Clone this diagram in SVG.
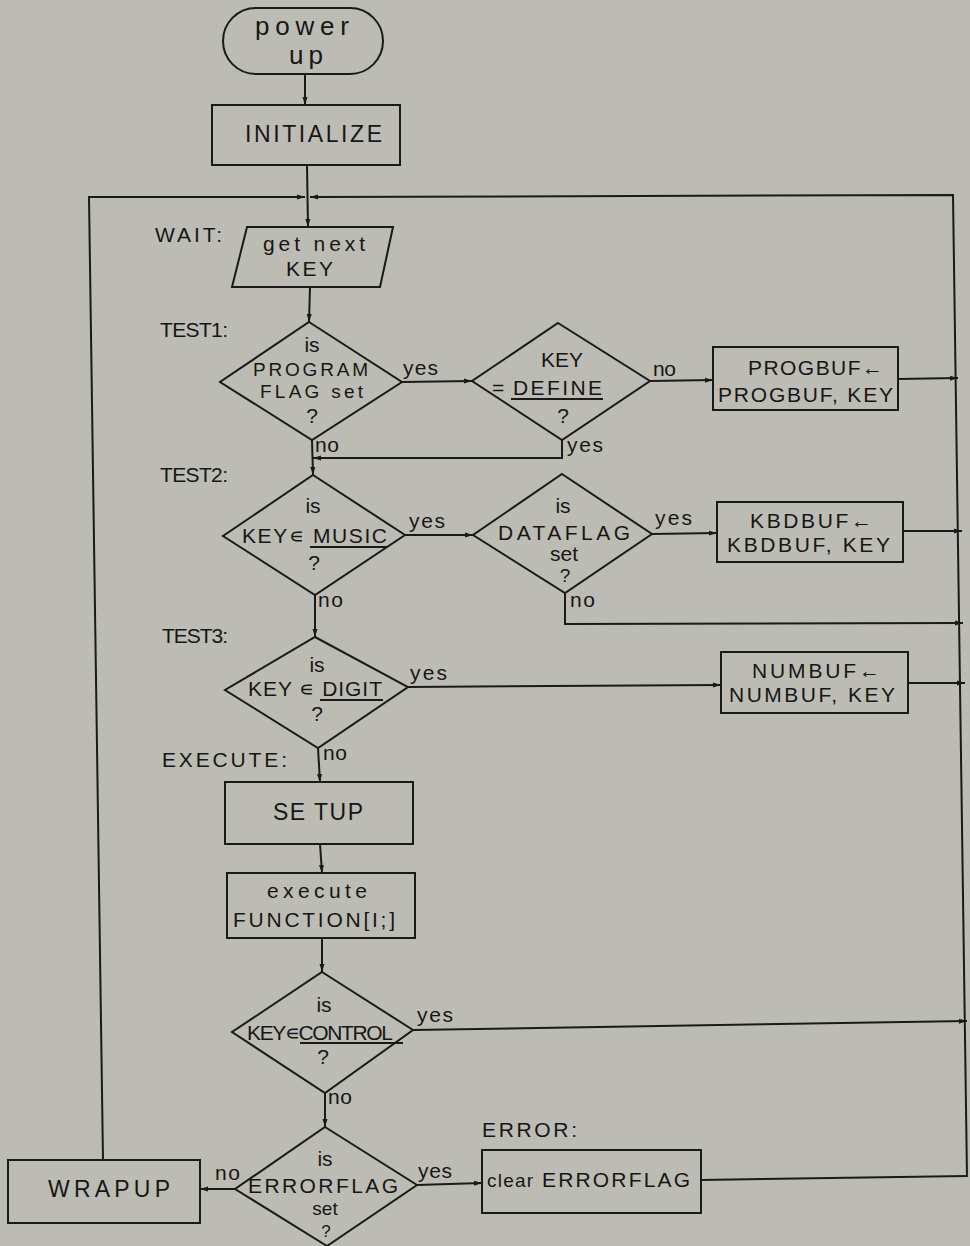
<svg xmlns="http://www.w3.org/2000/svg" width="970" height="1246" viewBox="0 0 970 1246">
<style>
.bg{fill:#bdbcb4}
.s{fill:none;stroke:#1a1a1a;stroke-width:2;stroke-linejoin:miter}
.ln{fill:none;stroke:#1a1a1a;stroke-width:2}
.t{font-family:"Liberation Sans",Arial,sans-serif;fill:#161616;font-size:21px}
.m{text-anchor:middle}
.big{font-size:23px}
.sm{font-size:19px}
</style>
<defs>
<marker id="ah" markerUnits="userSpaceOnUse" markerWidth="9" markerHeight="6" refX="8" refY="3" orient="auto">
<path d="M0,0.5 L8,3 L0,5.5 z" fill="#1a1a1a"/>
</marker>
</defs>
<rect class="bg" x="0" y="0" width="970" height="1246"/>

<g id="connectors">
<path class="ln" d="M305,74 L305,105" marker-end="url(#ah)"/>
<path class="ln" d="M307,165 L308,227" marker-end="url(#ah)"/>
<path class="ln" d="M103,1160 L89,197 L305,197" marker-end="url(#ah)"/>
<path class="ln" d="M967,1177 L953,195 L310,197" marker-end="url(#ah)"/>
<path class="ln" d="M310,287 L309,322" marker-end="url(#ah)"/>
<path class="ln" d="M402,382 L472,381" marker-end="url(#ah)"/>
<path class="ln" d="M650,381 L713,380" marker-end="url(#ah)"/>
<path class="ln" d="M898,379 L958,378" marker-end="url(#ah)"/>
<path class="ln" d="M562,440 L562,458 L313,458" marker-end="url(#ah)"/>
<path class="ln" d="M312,440 L313,475" marker-end="url(#ah)"/>
<path class="ln" d="M405,535 L473,535" marker-end="url(#ah)"/>
<path class="ln" d="M652,534 L717,533" marker-end="url(#ah)"/>
<path class="ln" d="M903,531 L962,531" marker-end="url(#ah)"/>
<path class="ln" d="M565,593 L565,624 L963,623" marker-end="url(#ah)"/>
<path class="ln" d="M315,595 L315,637" marker-end="url(#ah)"/>
<path class="ln" d="M408,687 L721,685" marker-end="url(#ah)"/>
<path class="ln" d="M908,683 L965,683" marker-end="url(#ah)"/>
<path class="ln" d="M318,748 L320,782" marker-end="url(#ah)"/>
<path class="ln" d="M320,844 L322,873" marker-end="url(#ah)"/>
<path class="ln" d="M322,938 L322,972" marker-end="url(#ah)"/>
<path class="ln" d="M413,1030 L967,1021" marker-end="url(#ah)"/>
<path class="ln" d="M325,1093 L325,1127" marker-end="url(#ah)"/>
<path class="ln" d="M235,1189 L200,1189" marker-end="url(#ah)"/>
<path class="ln" d="M417,1185 L482,1183" marker-end="url(#ah)"/>
<path class="ln" d="M701,1180 L967,1176"/>
</g>

<g id="labels">
<text class="t" x="155" y="242" textLength="67" lengthAdjust="spacing">WAIT:</text>
<text class="t" x="160" y="337" textLength="68" lengthAdjust="spacing">TEST1:</text>
<text class="t" x="160" y="482" textLength="68" lengthAdjust="spacing">TEST2:</text>
<text class="t" x="162" y="643" textLength="66" lengthAdjust="spacing">TEST3:</text>
<text class="t" x="162" y="767" textLength="125" lengthAdjust="spacing">EXECUTE:</text>
<text class="t" x="482" y="1137" textLength="95" lengthAdjust="spacing">ERROR:</text>
<text class="t" x="403" y="375" textLength="35" lengthAdjust="spacing">yes</text>
<text class="t" x="315" y="452" textLength="24" lengthAdjust="spacing">no</text>
<text class="t" x="567" y="452" textLength="36" lengthAdjust="spacing">yes</text>
<text class="t" x="653" y="376" textLength="23" lengthAdjust="spacing">no</text>
<text class="t" x="409" y="528" textLength="36" lengthAdjust="spacing">yes</text>
<text class="t" x="655" y="525" textLength="37" lengthAdjust="spacing">yes</text>
<text class="t" x="318" y="607" textLength="25" lengthAdjust="spacing">no</text>
<text class="t" x="570" y="607" textLength="25" lengthAdjust="spacing">no</text>
<text class="t" x="410" y="680" textLength="37" lengthAdjust="spacing">yes</text>
<text class="t" x="323" y="760" textLength="24" lengthAdjust="spacing">no</text>
<text class="t" x="417" y="1022" textLength="36" lengthAdjust="spacing">yes</text>
<text class="t" x="328" y="1104" textLength="24" lengthAdjust="spacing">no</text>
<text class="t" x="215" y="1180" textLength="25" lengthAdjust="spacing">no</text>
<text class="t" x="418" y="1178" textLength="34" lengthAdjust="spacing">yes</text>
</g>

<g id="powerup">
<rect class="s" x="223" y="8" width="160" height="66" rx="33"/>
<text class="t m" x="302" y="35" style="font-size:26px" textLength="94" lengthAdjust="spacing">power</text>
<text class="t m" x="306" y="64" style="font-size:26px" textLength="34" lengthAdjust="spacing">up</text>
</g>

<g id="initialize">
<rect class="s" x="212" y="105" width="188" height="60"/>
<text class="t big" x="245" y="142" textLength="137" lengthAdjust="spacing">INITIALIZE</text>
</g>

<g id="getkey">
<polygon class="s" points="247,227 393,227 380,287 232,287"/>
<text class="t" x="263" y="251" textLength="102" lengthAdjust="spacing">get next</text>
<text class="t" x="286" y="276" textLength="47" lengthAdjust="spacing">KEY</text>
</g>

<g id="test1">
<polygon class="s" points="309,322 402,382 312,440 220,382"/>
<text class="t m" x="312" y="352">is</text>
<text class="t sm" x="253" y="376" textLength="115" lengthAdjust="spacing">PROGRAM</text>
<text class="t sm" x="260" y="398" textLength="103" lengthAdjust="spacing">FLAG set</text>
<text class="t m" x="312" y="423">?</text>
</g>

<g id="define">
<polygon class="s" points="558,323 650,381 562,440 472,381"/>
<text class="t m" x="562" y="367">KEY</text>
<text class="t" x="492" y="395">=</text>
<text class="t" x="513" y="395" textLength="89" lengthAdjust="spacing">DEFINE</text>
<line class="ln" x1="511" y1="399" x2="603" y2="399"/>
<text class="t m" x="563" y="423">?</text>
</g>

<g id="progbuf">
<rect class="s" x="713" y="347" width="185" height="63"/>
<text class="t" x="748" y="375" textLength="135" lengthAdjust="spacing">PROGBUF←</text>
<text class="t" x="718" y="402" textLength="175" lengthAdjust="spacing">PROGBUF, KEY</text>
</g>

<g id="test2">
<polygon class="s" points="313,475 405,535 315,595 223,536"/>
<text class="t m" x="313" y="513">is</text>
<text class="t" x="242" y="543" textLength="145" lengthAdjust="spacing">KEY∊ MUSIC</text>
<line class="ln" x1="310" y1="547" x2="387" y2="547"/>
<text class="t m" x="314" y="570">?</text>
</g>

<g id="dataflag">
<polygon class="s" points="562,474 652,534 565,593 473,535"/>
<text class="t m" x="563" y="513">is</text>
<text class="t" x="498" y="540" textLength="132" lengthAdjust="spacing">DATAFLAG</text>
<text class="t m" x="564" y="561">set</text>
<text class="t m sm" x="565" y="582">?</text>
</g>

<g id="kbdbuf">
<rect class="s" x="717" y="502" width="186" height="60"/>
<text class="t" x="750" y="528" textLength="122" lengthAdjust="spacing">KBDBUF←</text>
<text class="t" x="727" y="552" textLength="163" lengthAdjust="spacing">KBDBUF, KEY</text>
</g>

<g id="test3">
<polygon class="s" points="315,637 408,687 318,748 225,690"/>
<text class="t m" x="317" y="672">is</text>
<text class="t" x="248" y="696" textLength="134" lengthAdjust="spacing">KEY ∊ DIGIT</text>
<line class="ln" x1="320" y1="700" x2="383" y2="700"/>
<text class="t m" x="317" y="721">?</text>
</g>

<g id="numbuf">
<rect class="s" x="721" y="652" width="187" height="61"/>
<text class="t" x="752" y="678" textLength="128" lengthAdjust="spacing">NUMBUF←</text>
<text class="t" x="729" y="702" textLength="166" lengthAdjust="spacing">NUMBUF, KEY</text>
</g>

<g id="setup">
<rect class="s" x="225" y="782" width="188" height="62"/>
<text class="t big" x="273" y="820" textLength="90" lengthAdjust="spacing">SE TUP</text>
</g>

<g id="execute">
<rect class="s" x="227" y="873" width="188" height="65"/>
<text class="t" x="267" y="898" textLength="100" lengthAdjust="spacing">execute</text>
<text class="t" x="233" y="927" textLength="162" lengthAdjust="spacing">FUNCTION[I;]</text>
</g>

<g id="control">
<polygon class="s" points="322,972 413,1030 325,1093 232,1032"/>
<text class="t m" x="324" y="1012">is</text>
<text class="t" x="247" y="1040" textLength="146" lengthAdjust="spacing">KEY∊CONTROL</text>
<line class="ln" x1="300" y1="1043" x2="403" y2="1043"/>
<text class="t m" x="323" y="1064">?</text>
</g>

<g id="errorflag">
<polygon class="s" points="325,1127 417,1185 327,1246 235,1189"/>
<text class="t m" x="325" y="1166">is</text>
<text class="t" x="248" y="1193" textLength="150" lengthAdjust="spacing">ERRORFLAG</text>
<text class="t m sm" x="325" y="1215">set</text>
<text class="t m" x="326" y="1237" style="font-size:17px">?</text>
</g>

<g id="wrapup">
<rect class="s" x="8" y="1160" width="192" height="63"/>
<text class="t big" x="48" y="1197" textLength="122" lengthAdjust="spacing">WRAPUP</text>
</g>

<g id="clear">
<rect class="s" x="482" y="1150" width="219" height="63"/>
<text class="t sm" x="487" y="1187" textLength="46" lengthAdjust="spacing">clear</text>
<text class="t" x="542" y="1187" textLength="148" lengthAdjust="spacing">ERRORFLAG</text>
</g>
</svg>
